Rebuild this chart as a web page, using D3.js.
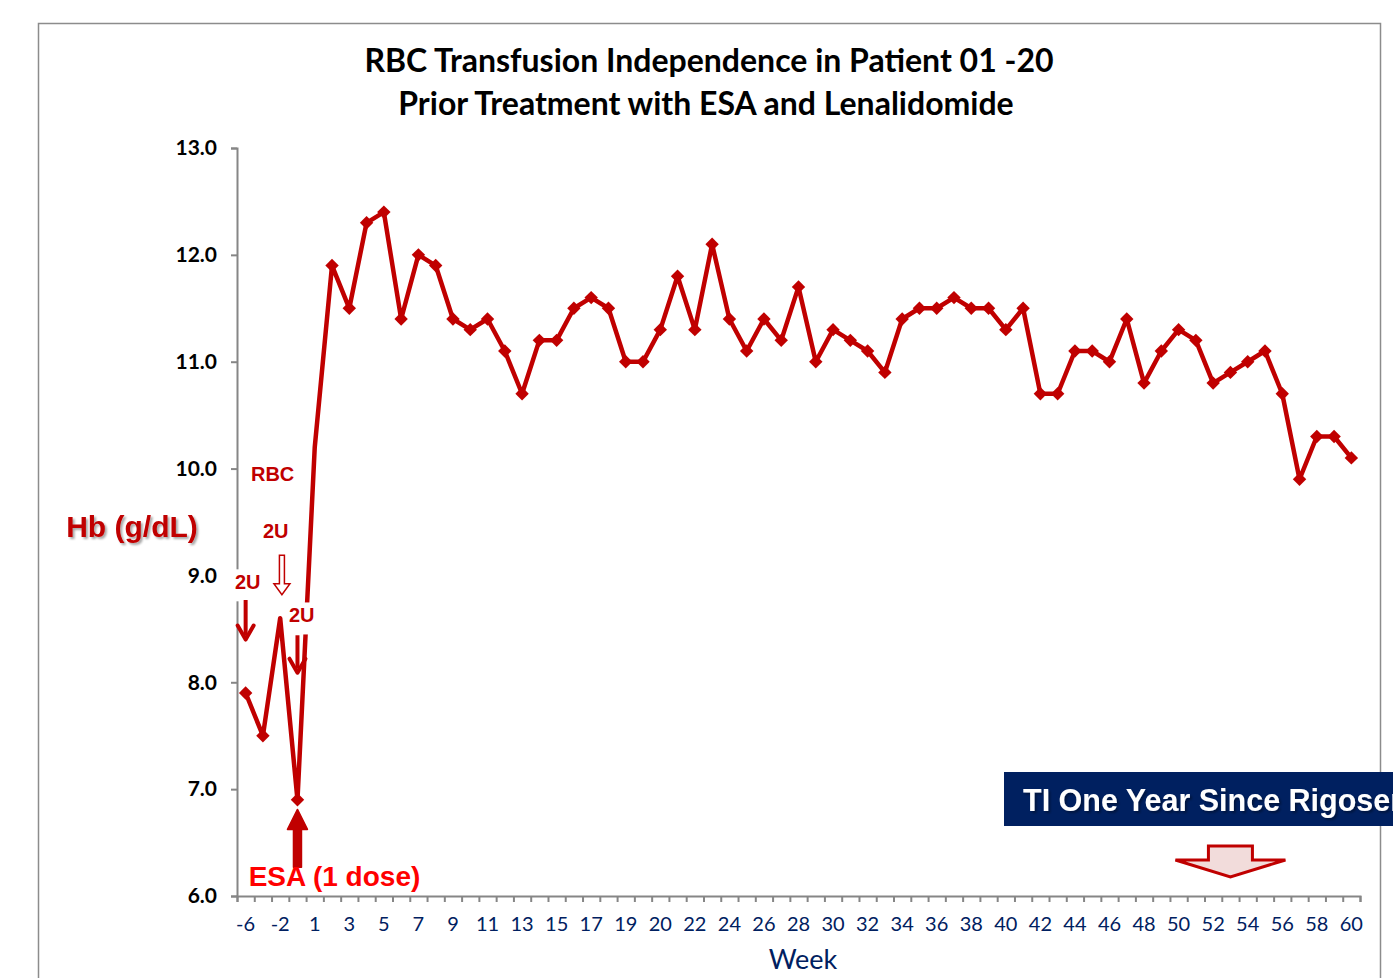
<!DOCTYPE html>
<html>
<head>
<meta charset="utf-8">
<script src="https://cdn.jsdelivr.net/npm/d3@7"></script>
<style>
  body { margin: 0; background: #fff; }
  svg { display: block; }
</style>
</head>
<body>
<svg id="chart" width="1393" height="978"></svg>
<script>
// week categories (one per data point); only every second one is labelled
const weeks = [-6, -4, -2, -1,
  1, 2, 3, 4, 5, 6, 7, 8, 9, 10, 11, 12, 13, 14, 15, 16, 17, 18, 19, 19.5,
  20, 21, 22, 23, 24, 25, 26, 27, 28, 29, 30, 31, 32, 33, 34, 35, 36, 37, 38, 39, 40,
  41, 42, 43, 44, 45, 46, 47, 48, 49, 50, 51, 52, 53, 54, 55, 56, 57, 58, 59, 60];

// hemoglobin, g/dL
const hb = [7.9, 7.5, 8.6, 6.9,
  10.2, 11.9, 11.5, 12.3, 12.4, 11.4, 12.0, 11.9, 11.4, 11.3, 11.4, 11.1, 10.7, 11.2, 11.2, 11.5, 11.6, 11.5, 11.0, 11.0,
  11.3, 11.8, 11.3, 12.1, 11.4, 11.1, 11.4, 11.2, 11.7, 11.0, 11.3, 11.2, 11.1, 10.9, 11.4, 11.5, 11.5, 11.6, 11.5, 11.5, 11.3,
  11.5, 10.7, 10.7, 11.1, 11.1, 11.0, 11.4, 10.8, 11.1, 11.3, 11.2, 10.8, 10.9, 11.0, 11.1, 10.7, 9.9, 10.3, 10.3, 10.1];

// points whose marker is covered by the transfusion arrows
const hiddenMarkers = [2, 4];

const yTicks = [6, 7, 8, 9, 10, 11, 12, 13];

// transfusion arrows: category index, start value, end value
const rbcArrows = [
  {i: 0, from: 8.77, to: 8.40, hollow: false},
  {i: 2.1, from: 9.19, to: 8.82, hollow: true},
  {i: 3, from: 8.44, to: 8.09, hollow: false}
];
const rbcLabels = [
  {i: 0.31, v: 9.88, text: 'RBC'},
  {i: 1.0, v: 9.35, text: '2U'},
  {i: -0.62, v: 8.87, text: '2U', box: true},
  {i: 2.51, v: 8.56, text: '2U', box: true}
];

const red = '#c00000';
const navy = '#002060';

const svg = d3.select('#chart');
const margin = {top: 148, left: 237, right: 1360, bottom: 896};

const defs = svg.append('defs');
defs.append('filter').attr('id', 'shadow')
  .append('feDropShadow').attr('dx', 2).attr('dy', 2).attr('stdDeviation', 1.2)
  .attr('flood-color', '#000').attr('flood-opacity', 0.35);

// outer chart frame
svg.append('rect')
  .attr('x', 38.5).attr('y', 23.5).attr('width', 1342).attr('height', 1000)
  .attr('fill', 'none').attr('stroke', '#8c8c8c').attr('stroke-width', 1.5);

// title
const title = svg.append('g')
  .attr('font-family', 'Lato, "Open Sans", sans-serif')
  .attr('font-weight', 'bold').attr('font-size', 32)
  .attr('text-anchor', 'middle').attr('fill', '#000');
title.append('text').attr('x', 709).attr('y', 72).text('RBC Transfusion Independence in Patient 01 -20');
title.append('text').attr('x', 706).attr('y', 115).text('Prior Treatment with ESA and Lenalidomide');

// scales
const x = d3.scaleBand().domain(d3.range(weeks.length))
  .range([margin.left, margin.right]).padding(0);
const xEdge = d3.scaleLinear().domain([0, weeks.length])
  .range([margin.left, margin.right]);
const y = d3.scaleLinear().domain([6, 13]).range([margin.bottom, margin.top]);
const cx = i => x(0) + x.bandwidth() * (i + 0.5);

// y axis
const yAxis = svg.append('g')
  .attr('transform', 'translate(' + margin.left + ',0)')
  .call(d3.axisLeft(y).tickValues(yTicks).tickFormat(d3.format('.1f')).tickSize(6).tickPadding(14));
yAxis.select('.domain').attr('stroke', '#868686').attr('stroke-width', 2);
yAxis.selectAll('.tick line').attr('stroke', '#868686').attr('stroke-width', 2);
yAxis.selectAll('.tick text')
  .attr('font-family', 'Lato, sans-serif').attr('font-weight', 'bold')
  .attr('font-size', 21).attr('fill', '#000');

// x axis: tick marks at band edges, labels every second category
const xTicks = svg.append('g')
  .attr('transform', 'translate(0,' + margin.bottom + ')')
  .call(d3.axisBottom(xEdge).tickValues(d3.range(weeks.length + 1)).tickFormat('').tickSize(6));
xTicks.select('.domain').attr('stroke', '#868686').attr('stroke-width', 2);
xTicks.selectAll('.tick line').attr('stroke', '#868686').attr('stroke-width', 2);

const xLabels = svg.append('g')
  .attr('transform', 'translate(0,' + margin.bottom + ')')
  .call(d3.axisBottom(x).tickValues(d3.range(0, weeks.length, 2))
    .tickFormat(i => weeks[i]).tickSize(0).tickPadding(21));
xLabels.select('.domain').remove();
xLabels.selectAll('.tick text')
  .attr('font-family', 'Lato, sans-serif').attr('font-size', 20).attr('fill', navy);

svg.append('text')
  .attr('x', 803).attr('y', 969).attr('text-anchor', 'middle')
  .attr('font-family', 'Lato, sans-serif').attr('font-size', 27).attr('fill', navy)
  .text('Week');

// y axis title
svg.append('text')
  .attr('x', 132).attr('y', 537).attr('text-anchor', 'middle')
  .attr('font-family', '"Liberation Sans", Arial, sans-serif').attr('font-weight', 'bold')
  .attr('font-size', 30).attr('fill', red).attr('filter', 'url(#shadow)')
  .text('Hb (g/dL)');

// the series
const line = d3.line().x((d, i) => cx(i)).y(d => y(d));
svg.append('path')
  .datum(hb)
  .attr('fill', 'none').attr('stroke', red).attr('stroke-width', 4.5)
  .attr('stroke-linejoin', 'round')
  .attr('d', line);

svg.append('g').selectAll('path')
  .data(hb.map((v, i) => ({v, i})).filter(d => !hiddenMarkers.includes(d.i)))
  .join('path')
  .attr('d', d3.symbol(d3.symbolSquare, 90))
  .attr('transform', d => 'translate(' + cx(d.i) + ',' + y(d.v) + ') rotate(45)')
  .attr('fill', red);

// transfusion annotations
const ann = svg.append('g');
rbcLabels.forEach(l => {
  const t = ann.append('text')
    .attr('x', cx(l.i)).attr('y', y(l.v))
    .attr('font-family', '"Liberation Sans", Arial, sans-serif').attr('font-weight', 'bold')
    .attr('font-size', 20).attr('fill', red).text(l.text);
  if (l.box) {
    const b = t.node().getBBox();
    ann.insert('rect', 'text')
      .attr('x', b.x - 4).attr('y', b.y - 2).attr('width', b.width + 4).attr('height', b.height + 10)
      .attr('fill', '#fff');
  }
});

rbcArrows.forEach(a => {
  const ax = cx(a.i);
  const y0 = y(a.from), y1 = y(a.to);
  if (a.hollow) {
    const hw = 8, sw = 2.5, hh = 11;
    ann.append('path')
      .attr('d', 'M' + (ax - sw) + ',' + y0 + 'H' + (ax + sw) + 'V' + (y1 - hh) + 'H' + (ax + hw) +
        'L' + ax + ',' + y1 + 'L' + (ax - hw) + ',' + (y1 - hh) + 'H' + (ax - sw) + 'Z')
      .attr('fill', '#fff').attr('stroke', red).attr('stroke-width', 1.5);
  } else {
    ann.append('line')
      .attr('x1', ax).attr('x2', ax).attr('y1', y0).attr('y2', y1 - 4)
      .attr('stroke', red).attr('stroke-width', 4);
    ann.append('path')
      .attr('d', 'M' + (ax - 8) + ',' + (y1 - 14) + 'L' + ax + ',' + y1 + 'L' + (ax + 8) + ',' + (y1 - 14))
      .attr('fill', 'none').attr('stroke', red).attr('stroke-width', 4)
      .attr('stroke-linejoin', 'round').attr('stroke-linecap', 'round');
  }
});

// ESA dose arrow (pointing up at week -1)
const ex = cx(3), eTop = y(6.81), eBot = y(6.27);
ann.append('path')
  .attr('d', 'M' + (ex - 4) + ',' + eBot + 'V' + (eTop + 20) + 'H' + (ex - 10) +
    'L' + ex + ',' + eTop + 'L' + (ex + 10) + ',' + (eTop + 20) + 'H' + (ex + 4) + 'V' + eBot + 'Z')
  .attr('fill', red).attr('stroke', red).attr('stroke-width', 1.5).attr('stroke-linejoin', 'round');

svg.append('text')
  .attr('x', cx(0) + 3).attr('y', y(6.09))
  .attr('font-family', '"Liberation Sans", Arial, sans-serif').attr('font-weight', 'bold')
  .attr('font-size', 28).attr('fill', '#ff0000')
  .text('ESA (1 dose)');

// TI callout box
svg.append('rect')
  .attr('x', 1004).attr('y', 772).attr('width', 400).attr('height', 54)
  .attr('fill', navy);
svg.append('text')
  .attr('x', 1023).attr('y', 811)
  .attr('font-family', '"Liberation Sans", Arial, sans-serif').attr('font-weight', 'bold')
  .attr('font-size', 30.5).attr('fill', '#fff').attr('filter', 'url(#shadow)')
  .text('TI One Year Since Rigosertib');

// block arrow under the callout
const bx = cx(57);
svg.append('path')
  .attr('d', 'M' + (bx - 22) + ',846H' + (bx + 22) + 'V860H' + (bx + 55) +
    'L' + bx + ',877L' + (bx - 55) + ',860H' + (bx - 22) + 'Z')
  .attr('fill', '#f2dcdb').attr('stroke', red).attr('stroke-width', 3).attr('stroke-linejoin', 'miter');
</script>
</body>
</html>
